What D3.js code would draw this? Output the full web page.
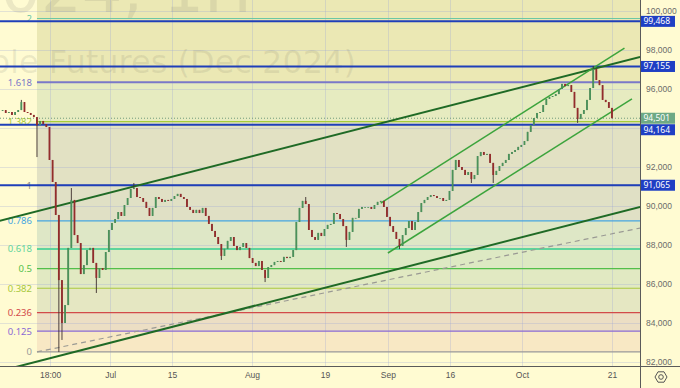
<!DOCTYPE html>
<html>
<head>
<meta charset="utf-8">
<script src="https://cdn.jsdelivr.net/npm/d3@7"></script>
<style>
body { margin: 0; background: #fffbd2; }
svg { display: block; font-family: "Noto Sans", "Liberation Sans", sans-serif; }
</style>
</head>
<body>
<div id="chart"></div>
<script>
// half-session candles, closes
var closes = [
	94920, 94770, 94820, 94670, 94820, 94920, 95330, 94820, 94770, 94670,
	94560, 94150, 94360, 94200, 94050, 92360, 91230, 89540, 86200, 84000,
	84920, 87850, 90310, 88510, 88100, 86510, 86970, 87740, 87850, 87080,
	86310, 86820, 86720, 87640, 88770, 89130, 89330, 89690, 89490, 90050,
	90410, 90870, 90920, 90460, 90410, 90210, 89900, 89490, 89900, 90460,
	90360, 90210, 90310, 90260, 90360, 90510, 90620, 90460, 90360, 89950,
	89800, 89640, 89800, 89640, 89900, 89490, 89080, 88720, 88410, 88050,
	87440, 87800, 88210, 88410, 87950, 87740, 87900, 88100, 87850, 87330,
	87080, 86920, 87180, 86720, 86310, 86870, 86970, 87130, 87180, 87130,
	87390, 87330, 87390, 87740, 89180, 89900, 90260, 90100, 88770, 88410,
	88260, 88620, 88460, 88820, 89030, 89080, 89640, 89590, 89330, 88970,
	88260, 88670, 89390, 89390, 89850, 89950, 89950, 89950, 89850, 90050,
	90210, 90260, 89950, 89440, 88970, 88670, 88310, 87950, 88510, 88870,
	89230, 88770, 89180, 89690, 90150, 90310, 90460, 90560, 90510, 90410,
	90410, 90260, 90310, 90770, 91850, 92360, 92000, 91850, 91590, 91740,
	91380, 91590, 92560, 92770, 92620, 92670, 92210, 91590, 91800, 92050,
	92210, 92360, 92670, 92770, 92870, 93030, 93130, 93330, 93800, 94150,
	94510, 94770, 94820, 95180, 95490, 95590, 95640, 95740, 96000, 96260,
	96150, 96200, 95850, 95030, 94460, 94720, 94920, 95440, 96050, 97030,
	96460, 96200, 95440, 95330, 95030, 94501
];
var firstOpen = 94880;
// long wicks that stand out
var wickHigh = {6: 95440, 22: 90920, 42: 91180, 97: 90460, 189: 97180};
var wickLow  = {11: 92510, 18: 82510, 19: 83130, 30: 85540, 70: 87230, 84: 86100,
                110: 87900, 127: 87790, 150: 91180, 157: 91180, 184: 94260};

var timeTicks  = [15.2, 34.4, 54.2, 79.8, 103.2, 123.3, 143.2, 166.2, 195.0];
var timeLabels = ['18:00', 'Jul', '15', 'Aug', '19', 'Sep', '16', 'Oct', '21'];
var gridPrices = [82000, 84000, 86000, 88000, 90000, 92000, 94000, 96000, 98000, 100000];
// 94,000 label sits under the price tags, so it is not shown
var axisPrices = [82000, 84000, 86000, 88000, 90000, 92000, 96000, 98000, 100000];

var levels    = [99468, 97155, 94164, 91065];
var lastPrice = 94501;

var fibStart  = 11;
var fibLow    = 82515, fibHigh = 91065;
var fibLevels = [0, 0.125, 0.236, 0.382, 0.5, 0.618, 0.786, 1, 1.382, 1.618, 2];
var fibLabels = ['0', '0.125', '0.236', '0.382', '0.5', '0.618', '0.786', '1', '1.382', '1.618', '2'];

// trend lines: [index, price] pairs
var channelTop    = [[0, 89280], [200, 97480]];
var channelBottom = [[0, 81570], [200, 89790]];
var fibTrend      = [[11, 82515], [204, 88870]];
var riseTop       = [[121, 90150], [199, 98100]];
var riseBottom    = [[123.3, 87590], [201.4, 95490]];

// styles
var fibColors = ['#9a9a9a', '#8a6ad4', '#d24a4a', '#a8c83c', '#52bf4a', '#5ed49c',
                 '#45a6e0', '#8a8a8a', '#a6cc38', '#7a78c8', '#6cc8a4'];
var fibFills  = ['#f8e8c4', '#ecdec4', '#e5e7c2', '#e1e9c2', '#dde9c3', '#dee7c6',
                 '#e0e0c5', '#e2e1c3', '#e6ebc0', '#ebe8b4'];

var W = 680, H = 388, PW = 640, PH = 366;

var svg = d3.select('#chart').append('svg')
	.attr('width', W).attr('height', H);

svg.append('rect').attr('width', W).attr('height', H).attr('fill', '#fffbd2');

var x = d3.scaleLinear().domain([-0.83, 203.97]).range([0, PW]);
var y = d3.scaleLinear().domain([82000, 100000]).range([362, 11]);
var fibPrice = function(l) { return fibLow + l * (fibHigh - fibLow); };

svg.append('clipPath').attr('id', 'plotclip')
	.append('rect').attr('width', PW).attr('height', PH);

var plot = svg.append('g').attr('clip-path', 'url(#plotclip)');

// fib zones
var fx0 = x(fibStart);
fibFills.forEach(function(col, i) {
	var top = (i === fibFills.length - 1) ? 0 : y(fibPrice(fibLevels[i + 1]));
	var bot = y(fibPrice(fibLevels[i]));
	plot.append('rect')
		.attr('x', fx0).attr('y', top)
		.attr('width', PW - fx0).attr('height', bot - top)
		.attr('fill', col);
});

// grid
plot.append('g').selectAll('line').data(gridPrices).enter().append('line')
	.attr('x1', 0).attr('x2', PW)
	.attr('y1', function(d) { return y(d) + 0.5; })
	.attr('y2', function(d) { return y(d) + 0.5; })
	.attr('stroke', 'rgba(150,160,215,0.28)');
plot.append('g').selectAll('line').data(timeTicks).enter().append('line')
	.attr('y1', 0).attr('y2', PH)
	.attr('x1', function(d) { return Math.round(x(d)) + 0.5; })
	.attr('x2', function(d) { return Math.round(x(d)) + 0.5; })
	.attr('stroke', 'rgba(150,160,215,0.28)');

// watermark
plot.append('text')
	.attr('x', 252).attr('y', 12)
	.attr('text-anchor', 'end')
	.style('font-family', 'DejaVu Sans')
	.style('font-size', '64px')
	.attr('fill', 'rgba(100,100,90,0.12)')
	.text('SIZ2024, 1H');
plot.append('text')
	.attr('x', 356).attr('y', 73)
	.attr('text-anchor', 'end')
	.style('font-family', 'DejaVu Sans')
	.style('font-size', '32px')
	.attr('fill', 'rgba(100,100,90,0.12)')
	.text('Ruble Futures (Dec 2024)');

// fib lines + labels
fibLevels.forEach(function(l, i) {
	var yy = y(fibPrice(l));
	plot.append('line')
		.attr('x1', fx0).attr('x2', PW)
		.attr('y1', yy).attr('y2', yy)
		.attr('stroke', fibColors[i])
		.attr('stroke-width', (l === 0.618 || l === 1.618) ? 2 : 1.2);
	plot.append('text')
		.attr('x', 32).attr('y', yy + 3.5)
		.attr('text-anchor', 'end')
		.style('font-size', '9.5px')
		.attr('fill', fibColors[i])
		.text(fibLabels[i]);
});

// last price line
plot.append('line')
	.attr('x1', 0).attr('x2', PW)
	.attr('y1', y(lastPrice)).attr('y2', y(lastPrice))
	.attr('stroke', '#6f9a7c').attr('stroke-dasharray', '1,2');

// blue levels
plot.append('g').selectAll('line').data(levels).enter().append('line')
	.attr('x1', 0).attr('x2', PW)
	.attr('y1', function(d) { return y(d); })
	.attr('y2', function(d) { return y(d); })
	.attr('stroke', '#1f3fb9').attr('stroke-width', 2);

// trend lines
function extLine(pts, from, to) {
	var s = (pts[1][1] - pts[0][1]) / (pts[1][0] - pts[0][0]);
	return [[from, pts[0][1] + s * (from - pts[0][0])], [to, pts[0][1] + s * (to - pts[0][0])]];
}
var line = d3.line()
	.x(function(d) { return x(d[0]); })
	.y(function(d) { return y(d[1]); });

plot.append('path').attr('d', line(extLine(fibTrend, 11, 204)))
	.attr('fill', 'none').attr('stroke', '#9a9a94')
	.attr('stroke-width', 1.2).attr('stroke-dasharray', '5,4');
plot.append('path').attr('d', line(extLine(channelTop, -1, 204)))
	.attr('fill', 'none').attr('stroke', '#1f6a25').attr('stroke-width', 2);
plot.append('path').attr('d', line(extLine(channelBottom, -1, 204)))
	.attr('fill', 'none').attr('stroke', '#1f6a25').attr('stroke-width', 2);
plot.append('path').attr('d', line(riseTop))
	.attr('fill', 'none').attr('stroke', '#3ca43c').attr('stroke-width', 1.5);
plot.append('path').attr('d', line(riseBottom))
	.attr('fill', 'none').attr('stroke', '#3ca43c').attr('stroke-width', 1.5);

// candles
var candles = closes.map(function(c, i) {
	var o = i === 0 ? firstOpen : closes[i - 1];
	return {
		i: i, o: o, c: c,
		h: wickHigh[i] !== undefined ? wickHigh[i] : Math.max(o, c),
		l: wickLow[i]  !== undefined ? wickLow[i]  : Math.min(o, c)
	};
});
var cg = plot.append('g').selectAll('g').data(candles).enter().append('g');
cg.append('line')
	.attr('x1', function(d) { return x(d.i); })
	.attr('x2', function(d) { return x(d.i); })
	.attr('y1', function(d) { return y(d.h); })
	.attr('y2', function(d) { return y(d.l); })
	.attr('stroke', '#3b2c2c').attr('stroke-width', 0.9);
cg.append('rect')
	.attr('x', function(d) { return x(d.i) - 0.9; })
	.attr('width', 1.8)
	.attr('y', function(d) { return y(Math.max(d.o, d.c)); })
	.attr('height', function(d) { return Math.max(0.8, Math.abs(y(d.o) - y(d.c))); })
	.attr('fill', function(d) { return d.c >= d.o ? '#4a925a' : '#932c2c'; });

// price axis
var yAxis = d3.axisRight(y)
	.tickValues(axisPrices)
	.tickSize(0).tickPadding(6)
	.tickFormat(d3.format(','));
var ya = svg.append('g').attr('transform', 'translate(' + PW + ',0)').call(yAxis);
ya.select('.domain').remove();
ya.selectAll('text').style('font-size', '8.5px').attr('fill', '#6b6b6b');

// price tags (the 94,164 tag is pushed down under the last-price tag)
function tag(p, cy, col) {
	svg.append('rect')
		.attr('x', PW).attr('y', cy - 5.5)
		.attr('width', 35).attr('height', 11)
		.attr('fill', col);
	svg.append('text')
		.attr('x', PW + 3.5).attr('y', cy + 3)
		.style('font-size', '8.5px')
		.attr('fill', '#fff')
		.text(d3.format(',')(p));
}
tag(lastPrice, y(lastPrice), '#6ea985');
levels.forEach(function(p) {
	var cy = y(p);
	if (Math.abs(cy - y(lastPrice)) < 11) cy = y(lastPrice) + 11.5;
	tag(p, cy, '#1f3fc4');
});

// time axis
svg.append('rect').attr('x', 0).attr('y', PH).attr('width', W).attr('height', H - PH)
	.attr('fill', '#fffbd2');
var xAxis = d3.axisBottom(x)
	.tickValues(timeTicks)
	.tickSize(0).tickPadding(6)
	.tickFormat(function(d, i) { return timeLabels[i]; });
var xa = svg.append('g').attr('transform', 'translate(0,' + PH + ')').call(xAxis);
xa.select('.domain').remove();
xa.selectAll('text').style('font-size', '8.5px').attr('fill', '#555');

// borders
svg.append('line').attr('x1', 0).attr('x2', W).attr('y1', PH + 0.5).attr('y2', PH + 0.5)
	.attr('stroke', '#5a5a5a');
svg.append('line').attr('x1', PW + 0.5).attr('x2', PW + 0.5).attr('y1', 0).attr('y2', H)
	.attr('stroke', '#5a5a5a');

// settings icon
var hex = d3.range(6).map(function(k) {
	var a = Math.PI / 3 * k;
	return [661 + 6 * Math.cos(a), 377 + 6 * Math.sin(a)];
});
svg.append('path').attr('d', 'M' + hex.join('L') + 'Z')
	.attr('fill', 'none').attr('stroke', '#555').attr('stroke-width', 1);
svg.append('circle').attr('cx', 661).attr('cy', 377).attr('r', 2.3)
	.attr('fill', 'none').attr('stroke', '#555').attr('stroke-width', 1);
</script>
</body>
</html>
